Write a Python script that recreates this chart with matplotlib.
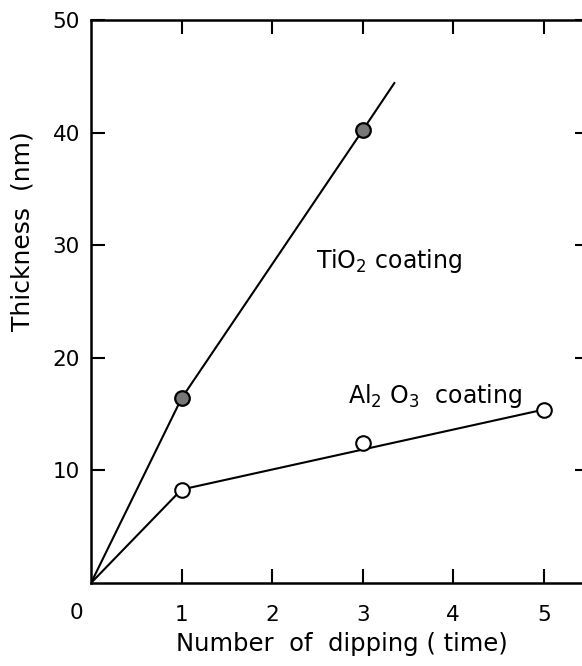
import matplotlib
matplotlib.use("Agg")
import matplotlib.pyplot as plt

# Data
tio2_x = [1, 3]
tio2_y = [16.4, 40.2]
tio2_line_x = [0, 1, 3, 3.35]
tio2_line_y = [0, 16.4, 40.2, 44.4]

al_x = [1, 3, 5]
al_y = [8.3, 12.4, 15.4]
al_line_x = [0, 1, 5]
al_line_y = [0, 8.3, 15.4]

xticks = [1, 2, 3, 4, 5]
yticks = [10, 20, 30, 40, 50]

W, H = 582, 666
fig = plt.figure(figsize=(W / 100, H / 100), dpi=100)
ax = fig.add_axes([91 / W, (H - 583) / H, (589 - 91) / W, (583 - 20) / H])

ax.plot(tio2_line_x, tio2_line_y, color="black", lw=1.5, zorder=2)
ax.plot(tio2_x, tio2_y, "o", ms=10.5, mfc="#777777", mec="black", mew=1.6, zorder=3)
ax.plot(al_x, al_y, "o", ms=10.5, mfc="white", mec="black", mew=1.5, zorder=3)
ax.plot(al_line_x, al_line_y, color="black", lw=1.5, zorder=2)

ax.set_xlim(0, 5.5)
ax.set_ylim(0, 50)

ax.spines["right"].set_visible(False)
for s in ["left", "bottom", "top"]:
    ax.spines[s].set_linewidth(1.8)

ax.set_xticks(xticks)
ax.set_xticklabels([str(v) for v in xticks])
ax.set_yticks(yticks)
ax.set_yticklabels([str(v) for v in yticks])
ax.tick_params(axis="both", direction="in", length=10, width=1.5,
               labelsize=15.5, top=True, right=True)
ax.tick_params(axis="x", pad=16)
ax.tick_params(axis="y", pad=8)

ax.text(-0.16, -0.054, "0", transform=ax.get_xaxis_transform(),
        ha="center", va="center", fontsize=15.5)

ax.text(2.48, 28.0, "TiO$_2$ coating", fontsize=17, ha="left", va="baseline")
ax.text(2.84, 16.0, "Al$_2$ O$_3$  coating", fontsize=17, ha="left", va="baseline")

fig.text(23 / W, 1 - 231 / H, "Thickness  (nm)", rotation=90,
         ha="center", va="center", fontsize=18)
fig.text(342 / W, 1 - 644 / H, "Number  of  dipping ( time)",
         ha="center", va="center", fontsize=17.5)

fig.savefig("out.png", dpi=100)
